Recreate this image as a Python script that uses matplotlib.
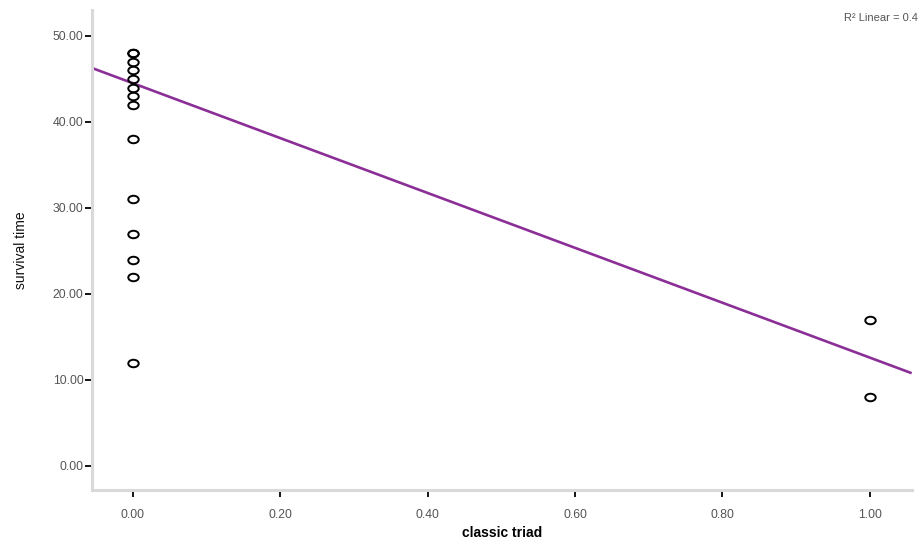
import numpy as np
import matplotlib
matplotlib.use("Agg")
import matplotlib.pyplot as plt
from matplotlib.markers import MarkerStyle
from matplotlib.transforms import Affine2D

plt.rcParams['font.family'] = ['Liberation Sans', 'DejaVu Sans']

# Data
classic_triad = [0, 0, 0, 0, 0, 0, 0, 0, 0, 0, 0, 0, 0, 0, 1, 1]
survival_time = [48, 48, 47, 46, 45, 44, 43, 42, 38, 31, 27, 24, 22, 12, 17, 8]

# Fitted line
fit_intercept = 44.5
fit_slope = -31.9
r2_text = 'R² Linear = 0.4'

x_ticks = [0.0, 0.2, 0.4, 0.6, 0.8, 1.0]
y_ticks = [0, 10, 20, 30, 40, 50]

fig = plt.figure(figsize=(9.22, 5.44), dpi=100)
ax = fig.add_axes([0.0998, 0.0993, 0.889, 0.882])

# open circles, a bit flattened like the SPSS ones
mk = MarkerStyle('o', fillstyle='none', transform=Affine2D().scale(1.0, 0.72))
ax.plot(classic_triad, survival_time, linestyle='none', marker=mk, markersize=7.5,
        markerfacecolor='none', markeredgecolor='black', markeredgewidth=1.4,
        zorder=3)

# regression line across the full x range
xlim = (-0.0556, 1.057)
xs = np.array(xlim)
ax.plot(xs, fit_intercept + fit_slope * xs, color='#8B2F97', lw=1.9, zorder=2,
        solid_capstyle='butt')

ax.set_xlim(*xlim)
ax.set_ylim(-2.8, 53.0)
ax.set_xticks(x_ticks)
ax.set_yticks(y_ticks)
ax.set_xticklabels([f'{v:.2f}' for v in x_ticks])
ax.set_yticklabels([f'{v:.2f}' for v in y_ticks])

for side in ['top', 'right']:
    ax.spines[side].set_visible(False)
for side in ['left', 'bottom']:
    ax.spines[side].set_color('#d9d9d9')
    ax.spines[side].set_linewidth(2.2)

ax.tick_params(axis='both', direction='out', length=5, width=1.3, color='black',
               labelsize=8.8, labelcolor='#555555', pad=1)
ax.tick_params(axis='x', pad=9)

ax.set_xlabel('classic triad', fontsize=10, fontweight='bold', labelpad=3)
ax.set_ylabel('survival time', fontsize=10, labelpad=18, color='#111111')

fig.text(0.995, 0.966, r2_text, ha='right', va='center',
         fontsize=8, color='#555555')

fig.savefig('out.png', dpi=100)
